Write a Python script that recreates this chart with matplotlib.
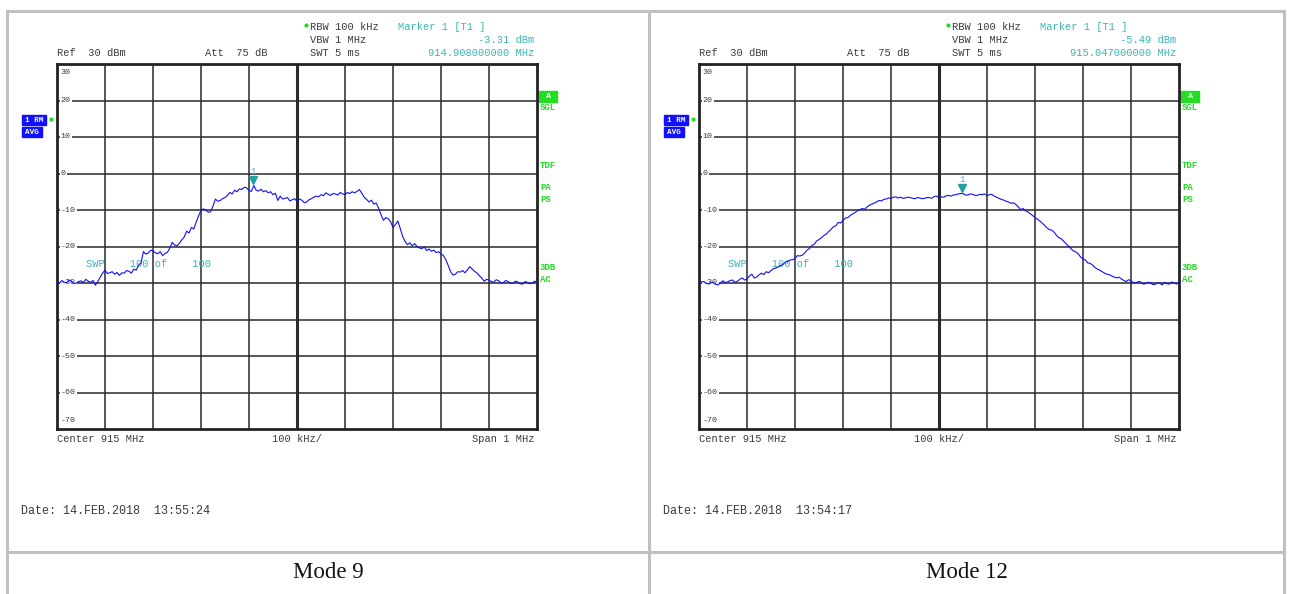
import matplotlib
matplotlib.use('Agg')
import matplotlib.pyplot as plt
import matplotlib.transforms as mtransforms
from matplotlib.patches import Rectangle

# ---- data ----
center_mhz = 915.0
span_mhz = 1.0
freq_offset_khz = list(range(-500, 501, 5))

mode9_dbm = [
    -29.6, -30.1, -29.3, -29.8, -29.9, -29.2, -29.5, -30.2, -30.0, -29.6,
    -29.4, -29.9, -29.0, -29.5, -29.8, -29.3, -30.6, -29.6, -28.4, -27.3,
    -26.5, -27.4, -27.2, -26.9, -27.6, -27.1, -27.9, -27.2, -27.3, -26.6,
    -26.8, -27.3, -26.2, -26.5, -25.1, -24.6, -21.4, -22.1, -21.8, -21.0,
    -21.2, -21.7, -22.0, -21.4, -22.5, -21.9, -21.6, -20.4, -18.9, -19.6,
    -19.8, -19.1, -18.2, -17.4, -15.8, -16.3, -14.8, -15.2, -13.3, -11.6,
    -10.1, -9.7, -10.0, -10.6, -10.5, -8.9, -7.0, -7.6, -7.4, -6.9,
    -6.6, -6.0, -5.2, -5.6, -4.6, -5.0, -4.2, -4.4, -3.8, -3.9,
    -4.7, -4.9, -3.3, -4.6, -4.8, -4.3, -5.0, -4.7, -5.3, -5.0,
    -5.8, -5.4, -7.4, -6.2, -7.0, -6.8, -6.6, -7.5, -7.2, -6.9,
    -7.6, -7.0, -7.3, -8.0, -7.8, -7.2, -6.9, -6.5, -6.2, -6.4,
    -5.8, -6.1, -5.3, -5.7, -6.0, -5.5, -5.6, -5.9, -5.2, -5.6,
    -5.8, -5.2, -5.5, -5.0, -5.3, -4.9, -4.4, -5.4, -6.5, -7.1,
    -7.8, -7.3, -8.4, -8.1, -9.5, -11.3, -12.8, -12.1, -12.4, -13.2,
    -14.8, -14.0, -13.0, -15.0, -17.2, -18.6, -19.5, -19.0, -19.8, -19.2,
    -20.0, -20.4, -20.6, -20.1, -21.1, -20.7, -21.3, -21.0, -21.7, -21.4,
    -22.0, -22.5, -23.6, -25.2, -26.9, -27.8, -27.6, -26.9, -27.0, -26.6,
    -27.2, -26.4, -25.5, -26.2, -26.8, -27.3, -28.0, -28.7, -29.5, -29.0,
    -29.2, -29.6, -29.8, -29.1, -29.4, -30.0, -29.9, -29.3, -29.6, -30.0,
    -30.1, -29.5, -29.7, -30.2, -30.3, -29.6, -29.8, -30.2, -30.0, -29.5,
    -29.7,
]

mode12_dbm = [
    -30.0, -29.7, -29.6, -30.1, -30.3, -29.8, -29.9, -30.4, -30.5, -29.9,
    -29.4, -29.9, -29.7, -29.3, -29.2, -29.8, -29.5, -29.0, -28.6, -29.2,
    -28.9, -28.1, -27.6, -28.6, -28.4, -27.8, -27.3, -27.7, -26.9, -27.2,
    -26.6, -26.1, -25.9, -25.6, -25.2, -24.9, -24.3, -24.1, -23.7, -23.6,
    -23.3, -22.5, -22.6, -22.4, -21.8, -21.0, -20.6, -19.7, -19.4, -18.5,
    -18.1, -17.6, -17.0, -16.6, -15.9, -15.3, -14.6, -14.3, -13.4, -13.6,
    -12.8, -12.2, -12.1, -11.5, -11.1, -10.7, -10.2, -9.9, -9.6, -9.8,
    -9.2, -8.7, -8.4, -8.1, -7.8, -7.4, -7.5, -7.1, -7.0, -6.7,
    -6.8, -6.5, -6.4, -6.7, -6.5, -6.8, -6.7, -6.5, -6.6, -6.8,
    -6.9, -6.6, -6.7, -6.9, -6.8, -6.6, -6.6, -6.8, -6.3, -6.2,
    -6.7, -6.4, -6.5, -6.1, -6.0, -6.2, -5.9, -5.8, -5.6, -5.5,
    -5.5, -5.9, -5.9, -5.6, -5.7, -6.0, -6.0, -5.7, -5.8, -5.6,
    -6.1, -5.8, -5.7, -6.2, -6.5, -6.8, -7.1, -7.3, -7.6, -7.8,
    -8.2, -8.0, -8.5, -9.1, -9.9, -9.6, -10.2, -10.5, -11.0, -11.5,
    -12.1, -12.5, -13.0, -13.6, -14.2, -14.9, -15.4, -15.5, -16.1, -17.0,
    -17.6, -17.9, -18.6, -19.3, -19.9, -20.6, -21.2, -21.5, -22.0, -22.9,
    -23.4, -23.7, -24.5, -24.6, -25.1, -25.8, -26.2, -26.5, -26.9, -27.3,
    -27.6, -27.7, -28.1, -28.4, -28.6, -28.4, -28.9, -29.3, -29.6, -29.1,
    -29.4, -29.9, -30.0, -29.6, -29.7, -30.3, -30.2, -29.8, -29.9, -30.4,
    -30.4, -29.9, -30.1, -30.5, -29.8, -30.2, -30.3, -29.7, -30.0, -30.3,
    -29.8,
]

traces = [mode9_dbm, mode12_dbm]
marker_freq = [914.908, 915.047]
marker_level = [-3.31, -5.49]
dates = ['14.FEB.2018  13:55:24', '14.FEB.2018  13:54:17']
captions = ['Mode 9', 'Mode 12']
y_labels = [30, 20, 10, 0, -10, -20, -30, -40, -50, -60, -70]

ref_level = 30
bottom_level = -70

mono = 'Liberation Mono'
dark = '#3a3a3a'
teal = '#3cb4b4'
green = '#22dd22'
blue = '#1010ff'
W, H = 1292, 594

fig = plt.figure(figsize=(W / 100, H / 100), dpi=100)

# background layer in pixel coordinates (table + screen annotations)
bg = fig.add_axes([0, 0, 1, 1])
bg.set_xlim(0, W)
bg.set_ylim(H, 0)
bg.axis('off')

grey = '#c0c0c0'
bg.plot([7, 7], [11, H], color=grey, lw=2.2)
bg.plot([649, 649], [11, H], color=grey, lw=2.2)
bg.plot([1284, 1284], [11, H], color=grey, lw=2.2)
bg.plot([7, 1284], [11, 11], color=grey, lw=2.2)
bg.plot([7, 1284], [552, 552], color=grey, lw=2.2)

panel_x0 = [57, 699]
ax_top, ax_bot, ax_w = 64, 429, 480

for i in range(2):
    x0 = panel_x0[i]
    x1 = x0 + ax_w
    freqs = [center_mhz + f / 1000 for f in freq_offset_khz]

    # header
    fs = 7.5
    bg.text(x0 + 253, 27, 'RBW 100 kHz', family=mono, fontsize=fs, color=dark, va='center')
    bg.plot([x0 + 249], [25], marker='o', ms=2, color=green)
    bg.text(x0 + 341, 27, 'Marker 1 [T1 ]', family=mono, fontsize=fs, color=teal, va='center')
    bg.text(x0 + 253, 40, 'VBW 1 MHz', family=mono, fontsize=fs, color=dark, va='center')
    bg.text(x1 - 3, 40, '%.2f dBm' % marker_level[i], family=mono, fontsize=fs,
            color=teal, va='center', ha='right')
    bg.text(x0, 53, 'Ref  30 dBm', family=mono, fontsize=fs, color=dark, va='center')
    bg.text(x0 + 148, 53, 'Att  75 dB', family=mono, fontsize=fs, color=dark, va='center')
    bg.text(x0 + 253, 53, 'SWT 5 ms', family=mono, fontsize=fs, color=dark, va='center')
    bg.text(x1 - 3, 53, '%.9f MHz' % marker_freq[i], family=mono, fontsize=fs,
            color=teal, va='center', ha='right')

    # left trace tags
    bg.add_patch(Rectangle((x0 - 35, 115), 24, 10, color=blue))
    bg.text(x0 - 23, 120, '1 RM', family=mono, fontsize=5.5, color='white',
            weight='bold', ha='center', va='center')
    bg.plot([x0 - 6], [119], marker='o', ms=2, color=green)
    bg.add_patch(Rectangle((x0 - 35, 127), 20, 10, color=blue))
    bg.text(x0 - 25, 132, 'AVG', family=mono, fontsize=5.5, color='white',
            weight='bold', ha='center', va='center')

    # right side status
    bg.add_patch(Rectangle((x1 + 2, 91), 18, 11, color=green))
    bg.text(x1 + 11, 96.5, 'A', family=mono, fontsize=6, color='white',
            weight='bold', ha='center', va='center')
    for txt, yy in [('SGL', 107), ('TDF', 165), ('PA', 188), ('PS', 199),
                    ('3DB', 268), ('AC', 280)]:
        bg.text(x1 + 3, yy, txt, family=mono, fontsize=6.5, color=green,
                weight='bold', va='center')

    # bottom labels
    bg.text(x0, 439, 'Center 915 MHz', family=mono, fontsize=fs, color=dark, va='center')
    bg.text(x0 + 240, 439, '100 kHz/', family=mono, fontsize=fs, color=dark,
            va='center', ha='center')
    bg.text(x1 - 2, 439, 'Span 1 MHz', family=mono, fontsize=fs, color=dark,
            va='center', ha='right')
    bg.text(x0 - 36, 511, 'Date: ' + dates[i], family=mono, fontsize=8.5,
            color=dark, va='center')

    cap_x = (7 + 649) / 2 if i == 0 else (649 + 1284) / 2
    bg.text(cap_x, 572, captions[i], family='Liberation Serif', fontsize=16.5,
            color='#111111', ha='center', va='center')

    # plot area
    ax = fig.add_axes([x0 / W, 1 - ax_bot / H, ax_w / W, (ax_bot - ax_top) / H])
    ax.set_xlim(center_mhz - span_mhz / 2, center_mhz + span_mhz / 2)
    ax.set_ylim(bottom_level, ref_level)
    ax.set_xticks([])
    ax.set_yticks([])
    for s in ax.spines.values():
        s.set_linewidth(2.0)
        s.set_color('#222222')

    for k in range(1, 10):
        xv = center_mhz - span_mhz / 2 + k * span_mhz / 10
        ax.axvline(xv, color='#2a2a2a', lw=2.2 if k == 5 else 1.1, zorder=1)
    for lv in y_labels[1:-1]:
        ax.axhline(lv, color='#2a2a2a', lw=1.1, zorder=1)

    left = center_mhz - span_mhz / 2
    for lv in y_labels:
        if lv == ref_level:
            yy = lv - 2.3
        elif lv == bottom_level:
            yy = lv + 2.3
        else:
            yy = lv
        ax.text(left + 0.008, yy, str(lv), family=mono, fontsize=6, color=dark,
                va='center', ha='left', zorder=2,
                bbox=dict(facecolor='white', edgecolor='none', pad=0.6))

    ax.text(0.06, 0.452, 'SWP    100 of    100', transform=ax.transAxes,
            family=mono, fontsize=fs, color=teal, va='center', zorder=2)

    ax.plot(freqs, traces[i], color=blue, lw=0.8, zorder=3)

    tri = mtransforms.offset_copy(ax.transData, fig=fig, y=4, units='points')
    ax.plot([marker_freq[i]], [marker_level[i]], marker='v', ms=5.5, color='#20a0a0',
            transform=tri, zorder=4)
    ax.annotate('1', xy=(marker_freq[i], marker_level[i]), xytext=(0, 10),
                textcoords='offset points', ha='center', va='center',
                family=mono, fontsize=6.5, color=teal, zorder=4)

fig.savefig('out.png', dpi=100)
